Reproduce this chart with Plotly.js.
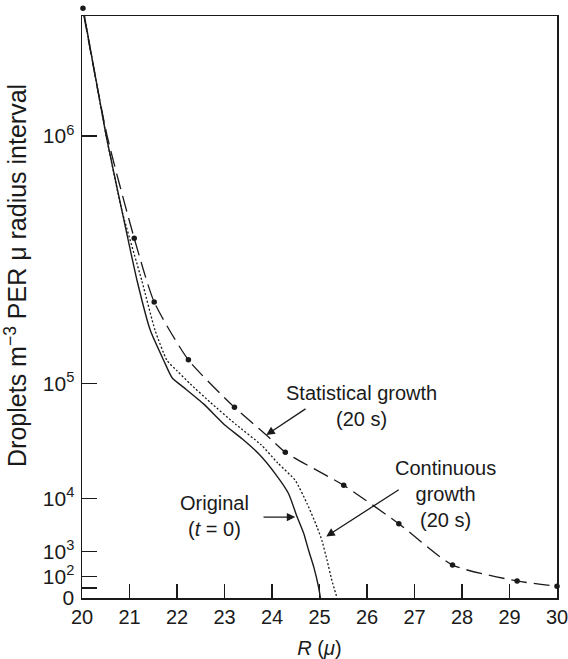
<!DOCTYPE html>
<html>
<head>
<meta charset="utf-8">
<script src="https://cdn.plot.ly/plotly-3.0.1.min.js"></script>
<style>html,body{margin:0;padding:0;background:#fff;}#chart{width:568px;height:659px;}</style>
</head>
<body>
<div id="chart"></div>
<script>
// Radius (micron) and droplet concentration (m^-3 per micron radius interval)
const originalR = [20.05, 20.51, 20.84, 21.16, 21.44, 21.72, 21.90, 22.14, 22.56, 23.02, 23.37, 23.72, 24.07, 24.35, 24.53, 24.67, 24.77, 24.88, 24.98, 25.02];
const originalN = [2.0e6, 1.0e6, 5.9e5, 3.24e5, 1.94e5, 1.36e5, 1.08e5, 9.48e4, 7.42e4, 5.2e4, 4.09e4, 3.04e4, 1.94e4, 1.15e4, 5.37e3, 2.7e3, 1.1e3, 300, 13.5, 0];

const continuousR = [20.05, 20.51, 20.84, 21.26, 21.54, 21.79, 22.0, 22.28, 22.70, 23.24, 23.77, 24.12, 24.49, 24.74, 24.95, 25.05, 25.16, 25.26, 25.37];
const continuousN = [2.0e6, 1.0e6, 5.9e5, 3.24e5, 1.94e5, 1.36e5, 1.19e5, 9.95e4, 7.6e4, 5.3e4, 3.65e4, 2.5e4, 1.65e4, 8.5e3, 3.6e3, 1.94e3, 540, 56, 0];

// statistical growth: curve read along the dashed line, and the plotted dots
const statCurveR = [20.04, 20.53, 21.1, 21.52, 22.24, 23.21, 23.88, 24.28, 25.51, 26.67, 27.8, 29.16, 30.0];
const statCurveN = [2.0e6, 1.0e6, 4.72e5, 2.63e5, 1.37e5, 7.03e4, 4.4e4, 3.14e4, 1.45e4, 4.16e3, 363, 50, 16];
const statDotR = [20.02, 21.1, 21.52, 22.24, 23.21, 24.28, 25.51, 26.67, 27.8, 29.16, 30.0];
const statDotN = [2.08e6, 4.72e5, 2.63e5, 1.37e5, 7.03e4, 3.14e4, 1.45e4, 4.16e3, 363, 50, 16];

const xTicks = [20, 21, 22, 23, 24, 25, 26, 27, 28, 29, 30];
const yTickValues = [0, 10, 100, 1e3, 1e4, 1e5, 1e6];
const yTickLabels = ['0', '', '10<sup>2</sup>', '10<sup>3</sup>', '10<sup>4</sup>', '10<sup>5</sup>', '10<sup>6</sup>'];
const yMax = 2.0e6;

// cube-root scale of the original figure
const tr = v => Math.cbrt(v);

const FONT = 'Liberation Sans, Arial, Helvetica, sans-serif';
const INK = '#1a1a1a';

// geometry: a thin strip above the frame lets the top dot show
const W = 568, H = 659, M = {l: 82, r: 11, t: 4, b: 61};
const plotH = H - M.t - M.b;
const frameH = plotH - 12;
const frameTop = frameH / plotH;

const traces = [
  {
    x: originalR, y: originalN.map(tr), mode: 'lines',
    line: {color: INK, width: 1.4, shape: 'spline', smoothing: 0.5},
    hoverinfo: 'skip', showlegend: false
  },
  {
    x: continuousR, y: continuousN.map(tr), mode: 'lines',
    line: {color: INK, width: 1.3, dash: '2px,2px', shape: 'spline', smoothing: 0.5},
    hoverinfo: 'skip', showlegend: false
  },
  {
    x: statCurveR, y: statCurveN.map(tr), mode: 'lines',
    line: {color: INK, width: 1.3, dash: '16px,7px', shape: 'spline', smoothing: 0.6},
    hoverinfo: 'skip', showlegend: false
  },
  {
    x: statDotR, y: statDotN.map(tr), mode: 'markers', yaxis: 'y2',
    marker: {color: INK, size: 5.5},
    cliponaxis: false,
    hoverinfo: 'skip', showlegend: false
  }
];

const layout = {
  width: W, height: H,
  margin: {l: M.l, r: M.r, t: M.t, b: M.b, pad: 0},
  paper_bgcolor: '#fff', plot_bgcolor: 'rgba(0,0,0,0)',
  font: {family: FONT, size: 20, color: INK},
  xaxis: {
    range: [20, 30], tickvals: xTicks, ticktext: xTicks.map(String),
    ticks: 'inside', ticklen: 14, tickwidth: 1.2, tickcolor: INK,
    showline: true, linecolor: INK, linewidth: 1.5, mirror: true,
    showgrid: false, zeroline: false, ticklabeloverflow: 'allow',
    tickfont: {family: FONT, size: 20, color: INK},
    title: {text: '<i>R</i> (<i>μ</i>)', font: {family: FONT, size: 20, color: INK}, standoff: 14}
  },
  yaxis: {
    domain: [0, frameTop],
    range: [0, tr(yMax)], tickvals: yTickValues.map(tr), ticktext: yTickLabels,
    ticks: 'inside', ticklen: 15, tickwidth: 1.2, tickcolor: INK,
    showline: true, linecolor: INK, linewidth: 1.5, mirror: true,
    showgrid: false, zeroline: false, ticklabeloverflow: 'allow',
    ticklabelstandoff: 2,
    tickfont: {family: FONT, size: 21, color: INK}
  },
  yaxis2: {
    domain: [0, 1], anchor: 'x',
    range: [0, tr(yMax) / frameTop],
    showline: false, showticklabels: false, ticks: '', showgrid: false, zeroline: false
  },
  annotations: [
    {xref: 'paper', yref: 'paper', x: -0.139, y: (frameH * 0.555) / plotH, xanchor: 'center', yanchor: 'middle',
     textangle: -90, showarrow: false,
     text: 'Droplets m<sup>−3</sup> PER μ radius interval', font: {family: FONT, size: 25, color: INK}},
    {x: 25.88, y: 41.54, xref: 'x', yref: 'y', showarrow: false, xanchor: 'center', yanchor: 'middle',
     text: 'Statistical growth<br>(20 s)'},
    {x: 27.65, y: 22.41, xref: 'x', yref: 'y', showarrow: false, xanchor: 'center', yanchor: 'middle',
     text: 'Continuous<br>growth<br>(20 s)'},
    {x: 22.79, y: 17.66, xref: 'x', yref: 'y', showarrow: false, xanchor: 'center', yanchor: 'middle',
     text: 'Original<br>(<i>t</i> = 0)'},
    {x: 23.88, y: 35.31, ax: 24.737, ay: 41.15, xref: 'x', yref: 'y', axref: 'x', ayref: 'y',
     text: '', showarrow: true, arrowhead: 2, arrowsize: 1.3, arrowwidth: 1.3, arrowcolor: INK, standoff: 0},
    {x: 25.143, y: 13.33, ax: 26.70, ay: 23.64, xref: 'x', yref: 'y', axref: 'x', ayref: 'y',
     text: '', showarrow: true, arrowhead: 2, arrowsize: 1.3, arrowwidth: 1.3, arrowcolor: INK, standoff: 0},
    {x: 24.49, y: 17.51, ax: 23.79, ay: 17.51, xref: 'x', yref: 'y', axref: 'x', ayref: 'y',
     text: '', showarrow: true, arrowhead: 2, arrowsize: 1.3, arrowwidth: 1.3, arrowcolor: INK, standoff: 0}
  ]
};

Plotly.newPlot('chart', traces, layout, {staticPlot: true, displayModeBar: false});
</script>
</body>
</html>
